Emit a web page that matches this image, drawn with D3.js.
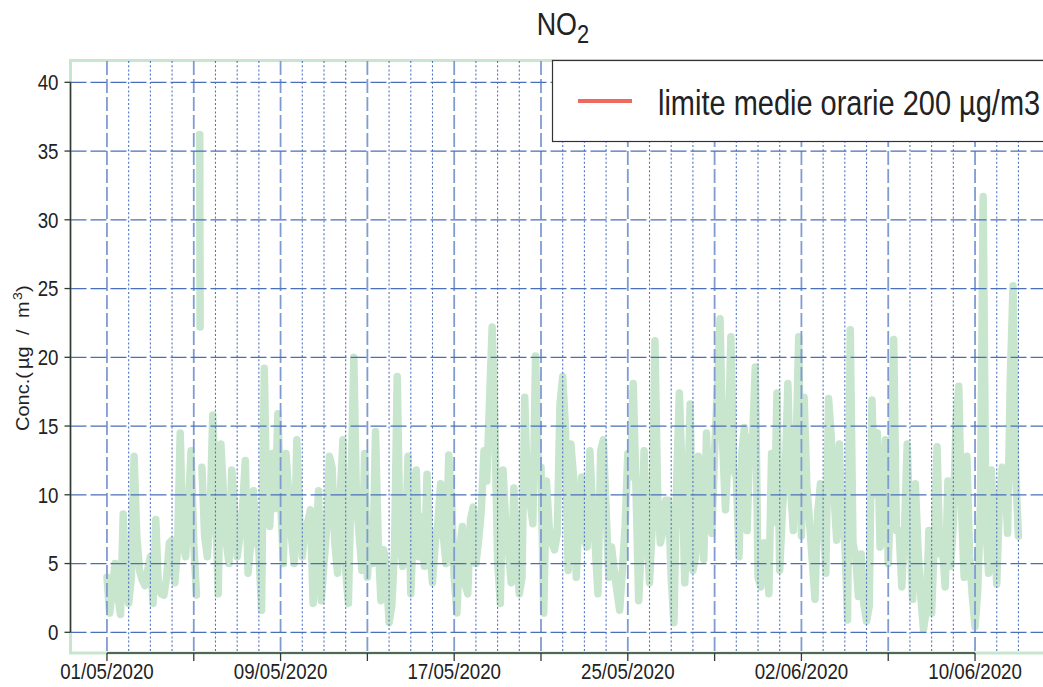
<!DOCTYPE html>
<html><head><meta charset="utf-8">
<script src="https://cdnjs.cloudflare.com/ajax/libs/d3/7.8.5/d3.min.js"></script>
<style>body{margin:0;background:#fff} svg{display:block;font-family:"Liberation Sans",Arial,sans-serif}</style>
</head><body><svg id="c" width="1043" height="687"></svg>
<script>
// ---------- data ----------
const startDate = "2020-05-01T00:00:00Z";
const stepHours = 3;
// NO2 concentration, one value every 3 hours (null = missing)
const no2 = [
  4.0, 1.4, 3.2, 5.0, 2.6, 1.3, 8.6, 3.3,
  2.1, 4.0, 12.8, 7.0, 4.5, 3.8, 3.4, 4.5,
  5.5, 2.1, 8.2, 3.1, 2.8, 2.7, 4.0, 6.5,
  6.7, 3.6, 6.0, 14.5, 6.5, 5.5, 9.0, 13.2,
  6.5, 2.7, null, 12.0, 7.0, 5.5, 8.4, 15.8,
  10.0, 2.8, 13.7, 9.9, 6.5, 5.0, 11.8, 8.9,
  5.5, 7.0, 9.0, 12.5, 4.3, 6.5, 10.3, 7.0,
  6.0, 1.6, 19.2, 8.2, 7.7, 13.0, 9.0, 15.9,
  9.9, 5.0, 13.0, 10.0, 7.0, 5.0, 14.0, 8.4,
  5.5, 7.5, 8.0, 8.9, 2.1, 6.0, 10.3, 2.3,
  5.0, 7.5, 12.8, 12.0, 6.5, 4.3, 10.0, 14.0,
  4.5, 2.1, 11.0, 20.0, 9.4, 7.0, 4.5, 13.0,
  4.0, 7.2, 5.0, 14.6, 6.5, 2.3, 6.0, 4.5,
  0.7, 1.9, 6.0, 18.6, 7.0, 4.8, 6.5, 12.8,
  2.8, 7.9, 11.8, 5.5, 8.4, 4.8, 11.5, 6.0,
  3.6, 6.5, 8.0, 10.8, 7.0, 5.0, 12.9, 9.9,
  4.0, 1.4, 6.0, 7.7, 3.5, 2.8, 8.2, 9.1,
  5.0, 6.7, 8.9, 13.2, 11.0, 16.6, 22.2, 15.0,
  5.2, 2.1, 11.8, 7.9, 6.0, 3.6, 10.5, 6.0,
  2.8, 4.0, 17.1, 10.1, 9.4, 7.9, 20.1, 12.0,
  12.0, 1.4, 11.0, 7.7, 6.5, 6.0, 7.2, 16.6,
  18.6, 14.9, 4.5, 13.7, 11.3, 4.0, 8.4, 11.3,
  6.7, 6.2, 13.2, 9.1, 6.2, 2.8, 13.2, 14.0,
  8.9, 4.0, 6.2, 4.5, 3.0, 1.6, 4.5, 7.7,
  13.0, 11.3, 18.1, 10.6, 2.3, 6.5, 13.2, 7.9,
  3.6, 7.7, 21.2, 10.0, 6.5, 7.4, 9.6, 9.6,
  4.0, 0.7, 10.8, 17.4, 11.5, 3.6, 9.0, 16.6,
  4.5, 5.5, 12.8, 9.4, 5.3, 14.5, 8.9, 7.2,
  13.2, 17.6, 22.8, 13.5, 8.9, 13.0, 21.5, 11.8,
  11.3, 5.5, 13.0, 14.9, 7.4, 14.2, 14.0, 19.3,
  4.0, 3.3, 6.5, 6.5, 2.8, 13.0, 8.0, 17.4,
  4.5, 9.0, 11.3, 18.1, 10.6, 7.4, 13.0, 21.5,
  7.0, 17.1, 10.6, 8.0, 5.2, 2.4, 8.7, 10.8,
  8.9, 4.3, 17.0, 14.2, 10.0, 6.7, 13.7, 7.5,
  6.7, 0.9, 22.0, 6.5, 5.5, 2.6, 5.7, 2.1,
  0.8, 1.9, 16.9, 10.0, 14.5, 6.2, 9.0, 14.0,
  5.0, 10.8, 21.3, 7.4, 7.4, 3.3, 7.5, 13.7,
  7.2, 2.4, 10.8, 6.0, 2.6, 0.2, 1.6, 7.4,
  1.4, 6.7, 13.5, 5.7, 6.2, 3.3, 11.0, 4.8,
  8.0, 15.4, 17.9, 9.0, 4.0, 12.8, 5.5, 2.6,
  0.4, 3.0, 9.4, 31.7, 7.6, 4.3, 11.8, 8.0,
  3.5, 9.5, 12.0, 11.8, 7.2, 18.4, 25.2, 11.6,
  7.0
];
// short isolated segment (hours after start)
const isolatedHours = [102.6, 103.0];
const isolatedValues = [36.2, 22.2];

const yTicks = [0, 5, 10, 15, 20, 25, 30, 35, 40];
const xTickDates = ["2020-05-01","2020-05-05","2020-05-09","2020-05-13","2020-05-17","2020-05-21",
                    "2020-05-25","2020-05-29","2020-06-02","2020-06-06","2020-06-10"];
const xTickLabels = ["01/05/2020","","09/05/2020","","17/05/2020","","25/05/2020","","02/06/2020","","10/06/2020"];
const titleMain = "NO", titleSub = "2";
const yLabelParts = ["Conc.(", "µg", "/", "m", "3", ")"];
const legendLabel = "limite medie orarie 200 µg/m3";

// ---------- setup ----------
const svg = d3.select("#c");
const t0 = new Date(startDate);
const addH = h => new Date(t0.getTime() + h * 3600e3);
const x = d3.scaleUtc().domain([addH(-1.68 * 24), addH(43.68 * 24)]).range([70.5, 1054.9]);
const y = d3.scaleLinear().domain([-1.6, 41.6]).range([654.3, 60.3]);

const series = no2.map((v, i) => ({t: addH(i * stepHours), v}));
const iso = isolatedHours.map((h, i) => ({t: addH(h), v: isolatedValues[i]}));

const green = "#c8e5ce";
// box
svg.append("rect").attr("x", x.range()[0]).attr("y", 60.5)
  .attr("width", x.range()[1] - x.range()[0]).attr("height", 653 - 60.5)
  .attr("fill", "none").attr("stroke", green).attr("stroke-width", 3);

// data line
const line = d3.line().defined(d => d.v != null).x(d => x(d.t)).y(d => y(d.v));
[series, iso].forEach(s => svg.append("path").datum(s).attr("d", line)
  .attr("fill", "none").attr("stroke", green).attr("stroke-width", 7.5)
  .attr("stroke-linejoin", "round").attr("stroke-linecap", "round"));

// grid
const grid = svg.append("g");
const days = d3.utcDay.range(t0, addH(42 * 24 + 1));
days.forEach((d, i) => {
  const major = i % 4 === 0;
  grid.append("line").attr("x1", x(d)).attr("x2", x(d)).attr("y1", 61).attr("y2", 653)
    .attr("stroke", major ? "#7f9bd2" : "#4f73c0")
    .attr("stroke-width", major ? 1.8 : 1.1)
    .attr("stroke-dasharray", major ? "14,4" : "2,2.2");
});
yTicks.forEach(v => {
  grid.append("line").attr("x1", 70.5).attr("x2", 1043).attr("y1", y(v)).attr("y2", y(v))
    .attr("stroke", "#4a6fbb").attr("stroke-width", 1.3).attr("stroke-dasharray", "16,4");
});

// axes
const axisCol = "#2f3a30";
const ax = svg.append("g");
const xt = xTickDates.map(s => new Date(s + "T00:00:00Z"));
ax.append("line").attr("x1", 70.5).attr("x2", 70.5).attr("y1", y(40)).attr("y2", y(0))
  .attr("stroke", axisCol).attr("stroke-width", 1.4);
ax.append("line").attr("x1", x(xt[0])).attr("x2", x(xt[xt.length - 1])).attr("y1", 653).attr("y2", 653)
  .attr("stroke", axisCol).attr("stroke-width", 1.4);
function sText(g, str, px, py, size, anchor, sx) {
  return g.append("text").attr("transform", `translate(${px},${py}) scale(${sx},1)`)
    .attr("font-size", size).attr("text-anchor", anchor).attr("fill", "#222").text(str);
}
yTicks.forEach(v => {
  ax.append("line").attr("x1", 64.5).attr("x2", 70.5).attr("y1", y(v)).attr("y2", y(v))
    .attr("stroke", axisCol).attr("stroke-width", 1.3);
  sText(ax, String(v), 58.5, y(v) + 7.8, 22, "end", 0.85);
});
xt.forEach((d, i) => {
  ax.append("line").attr("x1", x(d)).attr("x2", x(d)).attr("y1", 653).attr("y2", 661)
    .attr("stroke", axisCol).attr("stroke-width", 1.3);
  if (xTickLabels[i]) sText(ax, xTickLabels[i], x(d), 679, 22, "middle", 0.85);
});

// y label
const yl = svg.append("text").attr("transform", "translate(29,431) scale(0.88,1) rotate(-90)")
  .attr("font-size", 20).attr("fill", "#222");
const offs = [0, 62, 96, 113, 131, 139];
yLabelParts.forEach((p, i) => {
  const ts = yl.append("tspan").attr("x", offs[i]).text(p);
  if (i === 4) ts.attr("font-size", 14).attr("dy", -8);
  if (i === 5) ts.attr("dy", 8);
});

// title
const tt = svg.append("text").attr("transform", "translate(536.7,35) scale(0.84,1)")
  .attr("fill", "#222").attr("font-size", 32);
tt.append("tspan").text(titleMain);
tt.append("tspan").attr("font-size", 26).attr("dy", 8).text(titleSub);

// legend
const lg = svg.append("g");
lg.append("rect").attr("x", 552.5).attr("y", 60.5).attr("width", 600).attr("height", 81)
  .attr("fill", "#fff").attr("stroke", "#333").attr("stroke-width", 1.2);
lg.append("line").attr("x1", 578).attr("x2", 632).attr("y1", 101).attr("y2", 101)
  .attr("stroke", "#f0695f").attr("stroke-width", 4);
sText(lg, legendLabel, 658, 115, 34.5, "start", 0.84);
</script></body></html>
